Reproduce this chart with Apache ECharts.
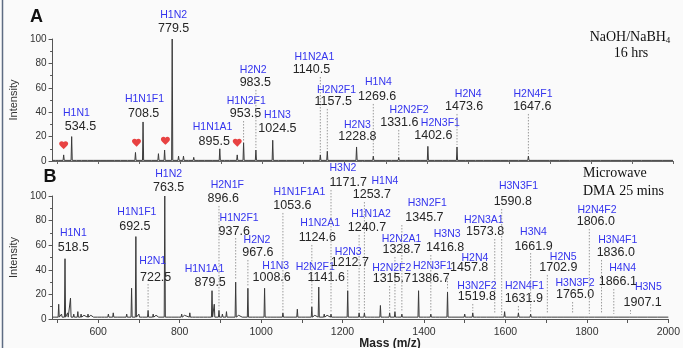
<!DOCTYPE html>
<html><head><meta charset="utf-8">
<script src="https://cdn.jsdelivr.net/npm/echarts@6/dist/echarts.min.js"></script>
<style>html,body{margin:0;padding:0;background:#fafafa}#c{width:683px;height:348px}</style>
</head><body><div id="c"></div>
<script>
// ---- Panel A (NaOH/NaBH4 16 hrs): [m/z, relative intensity]
const peaksA = [[496,1],[503,2],[515,5],[534.5,20],[548,1.5],[560,1],[575,1],[590,1],[605,1],[622,1],[640,1],[655,1],[672,1.5],[690,7],[708.5,32],[730,2],[746,6],[761,9],[779.5,100],[795,4],[807,4],[820,2],[832,3],[846,1.5],[860,2],[880,1.5],[895.5,10],[908,1.5],[920,2],[938,5],[953.5,15],[968,2],[983.5,9],[1000,1.5],[1024.5,17],[1040,1.5],[1060,1.5],[1080,1],[1100,1.5],[1120,1],[1140.5,5],[1157.5,8],[1180,1.5],[1200,2],[1212,1.5],[1228.8,11.5],[1250,1.5],[1269.6,4],[1285,1],[1300,1.5],[1315,1],[1331.6,3],[1350,1],[1370,1],[1385,1.5],[1402.6,12],[1420,1],[1440,1.5],[1455,1],[1473.6,11.5],[1495,1],[1520,1],[1540,1],[1560,1],[1580,1],[1600,1],[1625,1],[1647.6,4],[1670,1],[1700,1],[1725,1],[1750,1],[1775,1],[1800,1],[1825,1],[1850,1],[1875,1],[1900,1],[1925,1],[1950,1],[1975,1]];
// ---- Panel B (Microwave DMA 25 mins)
const peaksB = [[495,3],[503,12],[510,4],[518.5,49],[525,5],[532,17],[540,4],[550,6],[558,4],[565,3],[575,4],[582,3],[590,3],[600,3],[610,3],[617,3],[625,4],[637,5],[648,3],[660,3],[670,4],[682,25],[692.5,67],[700,4],[710,3],[722.5,7],[735,4],[742,3],[750,3],[763.5,100],[775,3],[782,3],[790,3],[798,3],[805,4],[812,3],[825,5],[833,3],[840,3],[850,3],[860,3],[870,3],[879.5,23],[885,12],[896.6,7],[905,4],[915,6],[925,3],[937.6,30],[945,3],[955,3],[967.6,25],[980,3],[988,3],[995,3],[1008.6,25],[1017,3],[1025,3],[1033,3],[1040,3],[1053.6,5],[1062,3],[1070,3],[1080,3],[1089,8],[1100,3],[1110,3],[1124.6,10],[1132,3],[1141.6,26],[1155,4],[1162,3],[1171.7,4],[1185,3],[1195,3],[1203,3],[1212.7,23],[1225,3],[1232,3],[1240.7,5],[1253.7,5],[1262,3],[1270,3],[1280,3],[1293,11],[1305,3],[1315.7,5],[1328.7,6],[1337,3],[1345.7,4],[1352,3],[1360,3],[1372,3],[1386.7,23],[1400,3],[1408,3],[1416.8,4],[1430,3],[1440,3],[1457.8,22],[1470,2.5],[1485,3],[1500,4],[1510,2.5],[1519.8,5],[1530,2.5],[1540,2.5],[1555,2.5],[1573.8,3],[1585,2.5],[1598,6],[1615,2.5],[1631.9,5],[1645,2.5],[1661.9,4],[1680,2.5],[1690,2.5],[1702.9,3],[1715,2.5],[1730,2.5],[1745,2.5],[1765,2.5],[1780,2],[1795,2],[1806,2.5],[1820,2],[1836,2.5],[1850,2],[1866.1,2.5],[1880,2],[1895,2],[1907.1,2.5],[1925,2],[1950,2],[1975,2]];
// hearts (panel A)
const heartMass = [515, 692.5, 763, 938];
const heartVal = [13, 15, 16.5, 15];
// annotations
const namesA = ['H1N1','H1N1F1','H1N2','H1N1A1','H1N2F1','H2N2','H1N3','H1N2A1','H2N2F1','H1N4','H2N3','H2N2F2','H2N3F1','H2N4','H2N4F1'];
const valuesA = ['534.5','708.5','779.5','895.5','953.5','983.5','1024.5','1140.5','1157.5','1269.6','1228.8','1331.6','1402.6','1473.6','1647.6'];
const namesB = ['H1N1','H1N1F1','H2N1','H1N2','H1N1A1','H2N1F','H1N2F1','H2N2','H1N3','H1N1F1A1','H1N2A1','H2N2F1','H3N2','H1N4','H1N1A2','H2N3','H2N2A1','H2N2F2','H2N3F1','H3N2F1','H3N3','H2N4','H2N3A1','H3N3F1','H3N4','H2N5','H3N2F2','H2N4F1','H3N3F2','H2N4F2','H3N4F1','H4N4','H3N5'];
const valuesB = ['518.5','692.5','722.5','763.5','879.5','896.6','937.6','967.6','1008.6','1053.6','1124.6','1141.6','1171.7','1253.7','1240.7','1212.7','1328.7','1315.7','1386.7','1345.7','1416.8','1457.8','1573.8','1590.8','1661.9','1702.9','1519.8','1631.9','1765.0','1806.0','1836.0','1866.1','1907.1'];
const xTicks = [500,600,700,800,900,1000,1100,1200,1300,1400,1500,1600,1700,1800,1900,2000];
const xLabels = [600,800,1000,1200,1400,1600,1800,2000];

// ---- layout (label anchor positions in axis units: [numMass,numVal,nameMass,nameVal])
const layoutA = [[556,27.9,546,39.4],[710,38.5,712,50.8],[783,108.2,783,119.7],[882,15.6,878,27.9],[958,38.5,960,49.2],[982,64,977,74.6],[1036,26.2,1036,37.7],[1119,74.6,1126,85.3],[1172,48.4,1180,58.2],[1279,52.5,1282,64.8],[1231,19.7,1231,29.5],[1333,31.2,1357,41.8],[1416,20.5,1433,31.2],[1491,44.3,1501,54.9],[1657,44.3,1659,54.9]];
const layoutB = [[539,57.7,539,69.9],[690,74.8,695,87],[741,34.1,734,47.2],[773,106.5,773,117.9],[875,29.3,861,40.7],[907,97.6,917,108.9],[934,71.5,946,82.1],[992,53.7,990,64.2],[1026,33.3,1036,43.1],[1077,91.9,1094,103.3],[1138,65.9,1145,78],[1160,33.3,1133,42.3],[1214,110.6,1201,122.8],[1272,100.8,1304,112.2],[1260,74,1270,85.4],[1218,45.5,1214,54.5],[1345,56.1,1345,65],[1321,32.5,1321,41.5],[1416,32.5,1421,43.1],[1401,82.1,1408,94.3],[1452,57.7,1457,69.1],[1511,41.5,1525,49.6],[1550,70.7,1547,80.5],[1618,95.1,1632,108.1],[1669,59.3,1669,70.7],[1730,41.5,1742,50.4],[1530,17.9,1530,26.8],[1645,16.3,1647,26.8],[1771,19.5,1771,29.3],[1822,78.9,1825,88.6],[1871,53.7,1876,64.2],[1876,30.1,1888,41.5],[1937,13,1951,26]];

function spectrum(peaks, base){
  const out = [[488, base]];
  peaks.forEach(p => { out.push([p[0]-1.4, base]); out.push([p[0], p[1]]); out.push([p[0]+1.4, base]); });
  out.push([2000, base]);
  return out;
}
function heightAt(peaks, m, base){
  let best = null, bd = 4;
  peaks.forEach(p => { const d = Math.abs(p[0]-m); if (d < bd) { bd = d; best = p[1]; } });
  return best === null ? base : best;
}
function annot(names, values, layout, peaks, base, gi){
  const data = values.map(v => [parseFloat(v), heightAt(peaks, parseFloat(v), base)]);
  return {
    type: 'custom', xAxisIndex: gi, yAxisIndex: gi, clip: false, silent: true, z: 5,
    data: data,
    renderItem: function(params, api){
      const i = params.dataIndex;
      const L = layout[i];
      const pk = api.coord([api.value(0), api.value(1)]);
      const pn = api.coord([L[0], L[1]]);
      const pb = api.coord([L[2], L[3]]);
      const children = [];
      const y1 = pn[1] + 7, y2 = pk[1] - 2;
      if (y2 - y1 > 3) {
        children.push({type:'line', shape:{x1:pk[0], y1:y1, x2:pk[0], y2:y2},
          style:{stroke:'#9a9a9a', lineWidth:1, lineDash:[1.5,1.5]}});
      }
      children.push({type:'text', style:{x:pb[0], y:pb[1], text:names[i], fill:'#3434ee',
        fontSize:10.5, fontFamily:'Liberation Sans, Arial', align:'center', verticalAlign:'middle'}});
      children.push({type:'text', style:{x:pn[0], y:pn[1], text:values[i], fill:'#262626',
        fontSize:12.5, fontFamily:'Liberation Sans, Arial', align:'center', verticalAlign:'middle'}});
      return {type:'group', children:children};
    }
  };
}

const chart = echarts.init(document.getElementById('c'), null, {renderer:'canvas'});
const axisTxt = {color:'#333', fontSize:10, fontFamily:'Liberation Sans, Arial'};
function yAx(gi){
  return {type:'value', gridIndex:gi, min:0, max:100, interval:20,
    name:'Intensity', nameLocation:'middle', nameGap:28,
    nameTextStyle:{color:'#333', fontSize:11, fontFamily:'Liberation Sans, Arial'},
    axisLine:{show:true, lineStyle:{color:'#555'}},
    axisTick:{show:true, length:4, lineStyle:{color:'#555'}},
    minorTick:{show:true, splitNumber:2, length:2.5, lineStyle:{color:'#555'}},
    axisLabel:Object.assign({margin:6}, axisTxt), splitLine:{show:false}};
}
chart.setOption({
  animation:false,
  backgroundColor:'#fafafa',
  grid:[{left:52, right:10, top:39, height:122}, {left:52, right:10, top:196, height:123}],
  xAxis:[
    {type:'value', gridIndex:0, min:488, max:2000,
      axisLine:{show:true, onZero:false, lineStyle:{color:'#666'}},
      axisTick:{show:true, customValues:xTicks, length:3, lineStyle:{color:'#666'}},
      axisLabel:{show:false}, splitLine:{show:false}},
    {type:'value', gridIndex:1, min:488, max:2000,
      axisLine:{show:true, onZero:false, lineStyle:{color:'#555'}},
      axisTick:{show:true, customValues:xTicks, length:4, lineStyle:{color:'#555'}},
      axisLabel:{customValues:xLabels, margin:8, fontSize:10.5, color:'#333', fontFamily:'Liberation Sans, Arial',
        formatter: v => String(v)},
      splitLine:{show:false}}
  ],
  yAxis:[yAx(0), yAx(1)],
  series:[
    {type:'line', xAxisIndex:0, yAxisIndex:0, data:spectrum(peaksA, 0.5), symbol:'none',
      lineStyle:{color:'#3a3a3a', width:1}, silent:true},
    {type:'line', xAxisIndex:1, yAxisIndex:1, data:spectrum(peaksB, 1.5), symbol:'none',
      lineStyle:{color:'#3a3a3a', width:1}, silent:true},
    {type:'scatter', xAxisIndex:0, yAxisIndex:0, data:heartMass.map((m,i)=>[m, heartVal[i]]),
      symbol:'path://M12 21.35l-1.45-1.32C5.4 15.36 2 12.28 2 8.5 2 5.42 4.42 3 7.5 3c1.74 0 3.41.81 4.5 2.09C13.09 3.81 14.76 3 16.5 3 19.58 3 22 5.42 22 8.5c0 3.78-3.4 6.86-8.55 11.54L12 21.35z',
      symbolSize:[9,8], itemStyle:{color:'#e41414'}, silent:true, z:6},
    annot(namesA, valuesA, layoutA, peaksA, 0.5, 0),
    annot(namesB, valuesB, layoutB, peaksB, 1.5, 1)
  ],
  graphic:[
    {type:'line', shape:{x1:2.5, y1:0, x2:2.5, y2:348}, style:{stroke:'#5d6b82', lineWidth:1.5}},
    {type:'text', x:36.5, y:17, style:{text:'A', fontSize:18, fontWeight:'bold', fill:'#111', fontFamily:'Liberation Sans, Arial', align:'center', verticalAlign:'middle'}},
    {type:'text', x:50, y:177, style:{text:'B', fontSize:18, fontWeight:'bold', fill:'#111', fontFamily:'Liberation Sans, Arial', align:'center', verticalAlign:'middle'}},
    {type:'text', x:630, y:37, style:{text:'{n|NaOH/NaBH}{s|4}', align:'center', verticalAlign:'middle', fill:'#111',
      rich:{n:{fontSize:14, fontFamily:'Liberation Serif, Times New Roman', fill:'#111', lineHeight:16},
            s:{fontSize:9, fontFamily:'Liberation Serif, Times New Roman', fill:'#111', padding:[8,0,0,0], lineHeight:16}}}},
    {type:'text', x:631, y:53, style:{text:'16 hrs', fontSize:14, fontFamily:'Liberation Serif, Times New Roman', fill:'#111', align:'center', verticalAlign:'middle'}},
    {type:'text', x:583, y:173, style:{text:'Microwave', fontSize:14, fontFamily:'Liberation Serif, Times New Roman', fill:'#111', align:'left', verticalAlign:'middle'}},
    {type:'text', x:583, y:191, style:{text:'DMA 25 mins', fontSize:14, fontFamily:'Liberation Serif, Times New Roman', fill:'#111', align:'left', verticalAlign:'middle'}},
    {type:'text', x:390, y:344, style:{text:'Mass (m/z)', fontSize:12, fontWeight:'bold', fontFamily:'Liberation Sans, Arial', fill:'#222', align:'center', verticalAlign:'middle'}}
  ]
});
</script></body></html>
